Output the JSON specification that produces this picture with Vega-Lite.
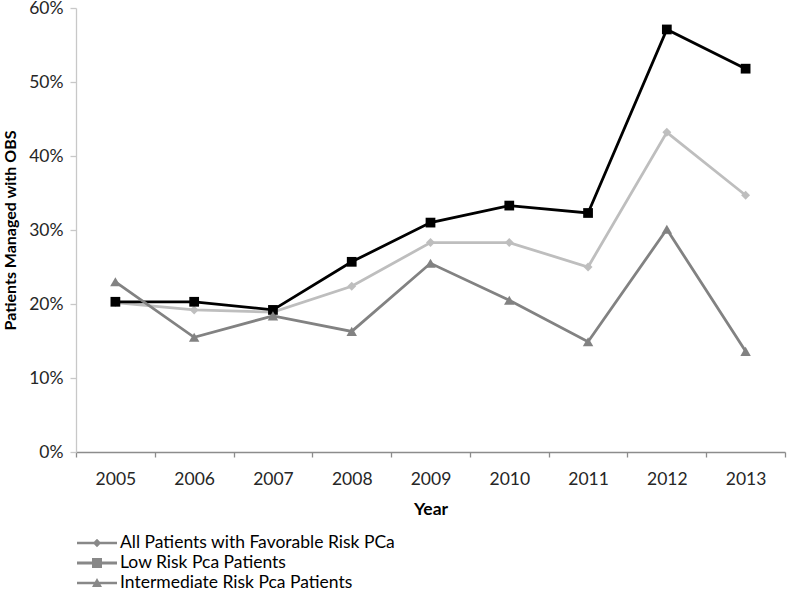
{
  "$schema": "https://vega.github.io/schema/vega-lite/v6.json",
  "width": 709,
  "height": 444,
  "autosize": "none",
  "padding": {"left": 76, "top": 8, "right": 2, "bottom": 142},
  "background": "white",
  "config": {
    "view": {"stroke": null},
    "font": "Lato",
    "axis": {"grid": false, "labelFont": "Lato", "labelFontSize": 17.5, "labelColor": "#262626", "titleFont": "Lato", "titleFontSize": 16, "titleFontWeight": "bold", "titleColor": "#000000"}
  },
  "data": {
    "values": [
      {"year": "2005", "series": "All Patients with Favorable Risk PCa", "value": 0.202},
      {"year": "2006", "series": "All Patients with Favorable Risk PCa", "value": 0.192},
      {"year": "2007", "series": "All Patients with Favorable Risk PCa", "value": 0.189},
      {"year": "2008", "series": "All Patients with Favorable Risk PCa", "value": 0.224},
      {"year": "2009", "series": "All Patients with Favorable Risk PCa", "value": 0.283},
      {"year": "2010", "series": "All Patients with Favorable Risk PCa", "value": 0.283},
      {"year": "2011", "series": "All Patients with Favorable Risk PCa", "value": 0.250},
      {"year": "2012", "series": "All Patients with Favorable Risk PCa", "value": 0.432},
      {"year": "2013", "series": "All Patients with Favorable Risk PCa", "value": 0.347},
      {"year": "2005", "series": "Low Risk Pca Patients", "value": 0.203},
      {"year": "2006", "series": "Low Risk Pca Patients", "value": 0.203},
      {"year": "2007", "series": "Low Risk Pca Patients", "value": 0.192},
      {"year": "2008", "series": "Low Risk Pca Patients", "value": 0.257},
      {"year": "2009", "series": "Low Risk Pca Patients", "value": 0.310},
      {"year": "2010", "series": "Low Risk Pca Patients", "value": 0.333},
      {"year": "2011", "series": "Low Risk Pca Patients", "value": 0.323},
      {"year": "2012", "series": "Low Risk Pca Patients", "value": 0.571},
      {"year": "2013", "series": "Low Risk Pca Patients", "value": 0.518},
      {"year": "2005", "series": "Intermediate Risk Pca Patients", "value": 0.230},
      {"year": "2006", "series": "Intermediate Risk Pca Patients", "value": 0.155},
      {"year": "2007", "series": "Intermediate Risk Pca Patients", "value": 0.184},
      {"year": "2008", "series": "Intermediate Risk Pca Patients", "value": 0.163},
      {"year": "2009", "series": "Intermediate Risk Pca Patients", "value": 0.255},
      {"year": "2010", "series": "Intermediate Risk Pca Patients", "value": 0.205},
      {"year": "2011", "series": "Intermediate Risk Pca Patients", "value": 0.149},
      {"year": "2012", "series": "Intermediate Risk Pca Patients", "value": 0.301},
      {"year": "2013", "series": "Intermediate Risk Pca Patients", "value": 0.136}
    ]
  },
  "encoding": {
    "x": {
      "field": "year", "type": "ordinal",
      "scale": {"type": "band", "paddingInner": 0, "paddingOuter": 0},
      "axis": {"title": "Year", "titleFontSize": 17.5, "labelAngle": 0, "tickBand": "extent", "domainColor": "#8c8c8c", "tickColor": "#8c8c8c", "domainWidth": 1.3, "tickWidth": 1.3, "tickSize": 5, "labelPadding": 13, "titlePadding": 13}
    },
    "y": {
      "field": "value", "type": "quantitative",
      "scale": {"domain": [0, 0.6], "nice": false},
      "axis": {"title": "Patients Managed with OBS", "values": [0, 0.1, 0.2, 0.3, 0.4, 0.5, 0.6], "format": ".0%", "domainColor": "#c8c8c8", "tickColor": "#c8c8c8", "domainWidth": 1.3, "tickWidth": 1.3, "tickSize": 6, "labelPadding": 7, "titlePadding": 10}
    },
    "color": {
      "field": "series", "type": "nominal",
      "scale": {"domain": ["All Patients with Favorable Risk PCa", "Low Risk Pca Patients", "Intermediate Risk Pca Patients"], "range": ["#bebebe", "#000000", "#828282"]}
    }
  },
  "layer": [
    {
      "mark": {"type": "line", "strokeWidth": 2.8},
      "encoding": {
        "color": {"field": "series", "type": "nominal", "legend": null},
        "order": {"field": "year"}
      }
    },
    {
      "mark": {"type": "point", "filled": true, "opacity": 1, "strokeWidth": 0},
      "encoding": {
        "color": {"field": "series", "type": "nominal", "legend": null},
        "shape": {"field": "series", "type": "nominal", "legend": null, "scale": {"domain": ["All Patients with Favorable Risk PCa", "Low Risk Pca Patients", "Intermediate Risk Pca Patients"], "range": ["diamond", "square", "triangle-up"]}},
        "size": {"field": "series", "type": "nominal", "legend": null, "scale": {"domain": ["All Patients with Favorable Risk PCa", "Low Risk Pca Patients", "Intermediate Risk Pca Patients"], "range": [80, 110, 100]}}
      }
    },
    {
      "mark": {"type": "point", "filled": true, "opacity": 0, "strokeWidth": 0},
      "encoding": {
        "color": {
          "field": "series", "type": "nominal",
          "legend": {
            "title": null, "orient": "none", "legendX": 11, "legendY": 525, "padding": 0, "offset": 0,
            "symbolSize": 400, "symbolOpacity": 1, "symbolStrokeWidth": 0, "symbolFillColor": "#888888", "labelOffset": 13,
            "labelFont": "Lato", "labelFontSize": 17.5, "labelColor": "#000000", "rowPadding": 1, "labelLimit": 500
          }
        },
        "shape": {
          "field": "series", "type": "nominal",
          "scale": {"domain": ["All Patients with Favorable Risk PCa", "Low Risk Pca Patients", "Intermediate Risk Pca Patients"], "range": ["M-2,-0.13H2V0.13H-2Z M0,-0.42L0.42,0L0,0.42L-0.42,0Z", "M-2,-0.15H2V0.15H-2Z M-0.5,-0.5H0.5V0.5H-0.5Z", "M-2,-0.13H2V0.13H-2Z M0,-0.5L0.5,0.4H-0.5Z"]},
          "legend": {
            "title": null, "orient": "none", "legendX": 11, "legendY": 525, "padding": 0, "offset": 0,
            "symbolSize": 400, "symbolOpacity": 1, "symbolStrokeWidth": 0, "symbolFillColor": "#888888", "labelOffset": 13,
            "labelFont": "Lato", "labelFontSize": 17.5, "labelColor": "#000000", "rowPadding": 1, "labelLimit": 500
          }
        }
      }
    }
  ],
  "resolve": {"scale": {"shape": "independent"}}
}
